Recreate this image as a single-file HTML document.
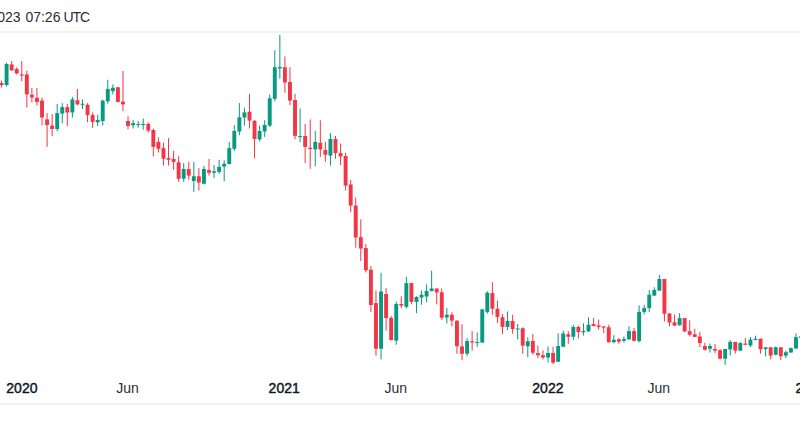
<!DOCTYPE html>
<html><head><meta charset="utf-8">
<style>
html,body{margin:0;padding:0;background:#fff;width:800px;height:445px;overflow:hidden;}
body{position:relative;font-family:"Liberation Sans",sans-serif;color:#131722;}
.hdr{position:absolute;top:8.2px;font-size:14px;line-height:18px;white-space:nowrap;color:#2a2e39;}
.ln{position:absolute;left:0;width:800px;height:2px;background:#f1f2f5;}
.lbl{position:absolute;top:380px;font-size:14px;line-height:16px;white-space:nowrap;transform:translateX(-50%);}
.j{color:#2a2e39;}
.b{font-weight:normal;-webkit-text-stroke:0.45px #131722;}
svg{position:absolute;left:0;top:0;}
</style></head><body>
<div class="hdr" style="right:779.5px">Nov 2023</div><div class="hdr" style="left:25.4px">07:26</div><div class="hdr" style="left:63.6px;letter-spacing:-1.1px">UTC</div>
<div class="ln" style="top:31px"></div>
<svg width="800" height="445" viewBox="0 0 800 445">
<rect x="1.03" y="80.60" width="1.0" height="6.90" fill="#F23645"/>
<rect x="-0.42" y="83.10" width="3.9" height="1.90" fill="#F23645"/>
<rect x="6.09" y="62.75" width="1.0" height="23.75" fill="#089981"/>
<rect x="4.64" y="64.00" width="3.9" height="21.00" fill="#089981"/>
<rect x="11.15" y="61.00" width="1.0" height="10.00" fill="#F23645"/>
<rect x="9.70" y="64.40" width="3.9" height="5.85" fill="#F23645"/>
<rect x="16.21" y="67.25" width="1.0" height="7.15" fill="#F23645"/>
<rect x="14.76" y="69.00" width="3.9" height="4.50" fill="#F23645"/>
<rect x="21.27" y="61.00" width="1.0" height="20.25" fill="#F23645"/>
<rect x="19.82" y="74.40" width="3.9" height="1.20" fill="#F23645"/>
<rect x="26.33" y="70.60" width="1.0" height="36.90" fill="#F23645"/>
<rect x="24.88" y="74.40" width="3.9" height="20.00" fill="#F23645"/>
<rect x="31.39" y="88.00" width="1.0" height="14.50" fill="#F23645"/>
<rect x="29.94" y="94.75" width="3.9" height="2.75" fill="#F23645"/>
<rect x="36.45" y="88.00" width="1.0" height="17.60" fill="#F23645"/>
<rect x="35.00" y="97.75" width="3.9" height="4.15" fill="#F23645"/>
<rect x="41.51" y="97.75" width="1.0" height="27.85" fill="#F23645"/>
<rect x="40.06" y="100.60" width="3.9" height="16.90" fill="#F23645"/>
<rect x="46.57" y="113.10" width="1.0" height="33.80" fill="#F23645"/>
<rect x="45.12" y="119.40" width="3.9" height="5.60" fill="#F23645"/>
<rect x="51.63" y="114.00" width="1.0" height="22.25" fill="#F23645"/>
<rect x="50.18" y="125.60" width="3.9" height="3.40" fill="#F23645"/>
<rect x="56.69" y="104.00" width="1.0" height="27.25" fill="#089981"/>
<rect x="55.24" y="113.10" width="3.9" height="15.90" fill="#089981"/>
<rect x="61.75" y="103.10" width="1.0" height="20.00" fill="#089981"/>
<rect x="60.30" y="107.10" width="3.9" height="6.40" fill="#089981"/>
<rect x="66.81" y="104.00" width="1.0" height="22.00" fill="#F23645"/>
<rect x="65.36" y="107.10" width="3.9" height="5.40" fill="#F23645"/>
<rect x="71.87" y="96.90" width="1.0" height="20.60" fill="#089981"/>
<rect x="70.42" y="99.40" width="3.9" height="13.10" fill="#089981"/>
<rect x="76.93" y="89.00" width="1.0" height="16.25" fill="#F23645"/>
<rect x="75.48" y="100.25" width="3.9" height="4.15" fill="#F23645"/>
<rect x="81.99" y="99.40" width="1.0" height="9.60" fill="#089981"/>
<rect x="80.54" y="103.75" width="3.9" height="1.00" fill="#089981"/>
<rect x="87.05" y="103.10" width="1.0" height="19.15" fill="#F23645"/>
<rect x="85.60" y="104.75" width="3.9" height="10.25" fill="#F23645"/>
<rect x="92.11" y="112.50" width="1.0" height="15.25" fill="#F23645"/>
<rect x="90.66" y="115.00" width="3.9" height="6.90" fill="#F23645"/>
<rect x="97.17" y="114.75" width="1.0" height="11.25" fill="#089981"/>
<rect x="95.72" y="120.00" width="3.9" height="2.25" fill="#089981"/>
<rect x="102.23" y="99.75" width="1.0" height="25.85" fill="#089981"/>
<rect x="100.78" y="100.60" width="3.9" height="20.40" fill="#089981"/>
<rect x="107.29" y="79.75" width="1.0" height="24.00" fill="#089981"/>
<rect x="105.84" y="89.00" width="3.9" height="12.25" fill="#089981"/>
<rect x="112.35" y="84.40" width="1.0" height="10.00" fill="#089981"/>
<rect x="110.90" y="87.75" width="3.9" height="3.50" fill="#089981"/>
<rect x="117.41" y="87.00" width="1.0" height="15.50" fill="#F23645"/>
<rect x="115.96" y="87.25" width="3.9" height="14.65" fill="#F23645"/>
<rect x="122.47" y="71.00" width="1.0" height="40.25" fill="#F23645"/>
<rect x="121.02" y="101.60" width="3.9" height="2.80" fill="#F23645"/>
<rect x="127.53" y="116.25" width="1.0" height="13.15" fill="#F23645"/>
<rect x="126.08" y="121.00" width="3.9" height="5.00" fill="#F23645"/>
<rect x="132.60" y="120.00" width="1.0" height="8.50" fill="#089981"/>
<rect x="131.15" y="123.10" width="3.9" height="2.15" fill="#089981"/>
<rect x="137.66" y="121.00" width="1.0" height="6.75" fill="#089981"/>
<rect x="136.21" y="124.10" width="3.9" height="1.00" fill="#089981"/>
<rect x="142.72" y="118.50" width="1.0" height="11.25" fill="#089981"/>
<rect x="141.27" y="124.00" width="3.9" height="1.00" fill="#089981"/>
<rect x="147.78" y="122.25" width="1.0" height="10.25" fill="#F23645"/>
<rect x="146.33" y="124.00" width="3.9" height="6.60" fill="#F23645"/>
<rect x="152.84" y="128.50" width="1.0" height="27.75" fill="#F23645"/>
<rect x="151.39" y="130.00" width="3.9" height="16.90" fill="#F23645"/>
<rect x="157.90" y="137.25" width="1.0" height="15.25" fill="#F23645"/>
<rect x="156.45" y="141.90" width="3.9" height="6.85" fill="#F23645"/>
<rect x="162.96" y="142.50" width="1.0" height="23.10" fill="#F23645"/>
<rect x="161.51" y="148.10" width="3.9" height="10.65" fill="#F23645"/>
<rect x="168.02" y="138.10" width="1.0" height="27.50" fill="#F23645"/>
<rect x="166.57" y="158.10" width="3.9" height="1.65" fill="#F23645"/>
<rect x="173.08" y="151.00" width="1.0" height="18.75" fill="#F23645"/>
<rect x="171.63" y="159.00" width="3.9" height="2.90" fill="#F23645"/>
<rect x="178.14" y="156.25" width="1.0" height="25.65" fill="#F23645"/>
<rect x="176.69" y="162.25" width="3.9" height="16.50" fill="#F23645"/>
<rect x="183.20" y="163.10" width="1.0" height="18.80" fill="#089981"/>
<rect x="181.75" y="169.00" width="3.9" height="9.75" fill="#089981"/>
<rect x="188.26" y="161.90" width="1.0" height="17.85" fill="#F23645"/>
<rect x="186.81" y="169.00" width="3.9" height="6.60" fill="#F23645"/>
<rect x="193.32" y="161.90" width="1.0" height="30.00" fill="#089981"/>
<rect x="191.87" y="176.25" width="3.9" height="4.75" fill="#089981"/>
<rect x="198.38" y="168.10" width="1.0" height="22.50" fill="#F23645"/>
<rect x="196.93" y="176.25" width="3.9" height="6.25" fill="#F23645"/>
<rect x="203.44" y="166.00" width="1.0" height="18.40" fill="#089981"/>
<rect x="201.99" y="169.00" width="3.9" height="14.75" fill="#089981"/>
<rect x="208.50" y="159.00" width="1.0" height="16.60" fill="#F23645"/>
<rect x="207.05" y="170.00" width="3.9" height="2.75" fill="#F23645"/>
<rect x="213.56" y="165.00" width="1.0" height="13.10" fill="#089981"/>
<rect x="212.11" y="171.25" width="3.9" height="1.50" fill="#089981"/>
<rect x="218.62" y="159.75" width="1.0" height="14.25" fill="#089981"/>
<rect x="217.17" y="166.90" width="3.9" height="5.00" fill="#089981"/>
<rect x="223.68" y="160.25" width="1.0" height="21.00" fill="#089981"/>
<rect x="222.23" y="163.75" width="3.9" height="2.75" fill="#089981"/>
<rect x="228.74" y="141.90" width="1.0" height="22.50" fill="#089981"/>
<rect x="227.29" y="148.10" width="3.9" height="15.90" fill="#089981"/>
<rect x="233.80" y="125.00" width="1.0" height="26.00" fill="#089981"/>
<rect x="232.35" y="131.00" width="3.9" height="17.75" fill="#089981"/>
<rect x="238.86" y="103.10" width="1.0" height="32.20" fill="#089981"/>
<rect x="237.41" y="117.25" width="3.9" height="14.25" fill="#089981"/>
<rect x="243.92" y="107.60" width="1.0" height="18.00" fill="#089981"/>
<rect x="242.47" y="112.40" width="3.9" height="5.10" fill="#089981"/>
<rect x="248.98" y="93.75" width="1.0" height="34.75" fill="#F23645"/>
<rect x="247.53" y="111.70" width="3.9" height="8.90" fill="#F23645"/>
<rect x="254.04" y="120.10" width="1.0" height="38.00" fill="#F23645"/>
<rect x="252.59" y="120.80" width="3.9" height="18.20" fill="#F23645"/>
<rect x="259.10" y="125.60" width="1.0" height="15.80" fill="#089981"/>
<rect x="257.65" y="131.00" width="3.9" height="8.40" fill="#089981"/>
<rect x="264.16" y="120.20" width="1.0" height="16.70" fill="#089981"/>
<rect x="262.71" y="125.00" width="3.9" height="6.50" fill="#089981"/>
<rect x="269.22" y="94.40" width="1.0" height="32.50" fill="#089981"/>
<rect x="267.77" y="98.30" width="3.9" height="27.30" fill="#089981"/>
<rect x="274.28" y="50.25" width="1.0" height="51.00" fill="#089981"/>
<rect x="272.83" y="67.25" width="3.9" height="31.50" fill="#089981"/>
<rect x="279.34" y="35.00" width="1.0" height="43.75" fill="#089981"/>
<rect x="277.89" y="66.90" width="3.9" height="1.60" fill="#089981"/>
<rect x="284.40" y="56.50" width="1.0" height="36.10" fill="#F23645"/>
<rect x="282.95" y="67.25" width="3.9" height="15.25" fill="#F23645"/>
<rect x="289.46" y="67.25" width="1.0" height="37.85" fill="#F23645"/>
<rect x="288.01" y="82.00" width="3.9" height="18.60" fill="#F23645"/>
<rect x="294.52" y="93.75" width="1.0" height="45.65" fill="#F23645"/>
<rect x="293.07" y="100.00" width="3.9" height="35.80" fill="#F23645"/>
<rect x="299.58" y="108.50" width="1.0" height="33.75" fill="#089981"/>
<rect x="298.13" y="136.00" width="3.9" height="1.00" fill="#089981"/>
<rect x="304.64" y="124.00" width="1.0" height="39.10" fill="#F23645"/>
<rect x="303.19" y="136.00" width="3.9" height="10.90" fill="#F23645"/>
<rect x="309.70" y="119.40" width="1.0" height="49.35" fill="#F23645"/>
<rect x="308.25" y="147.75" width="3.9" height="1.25" fill="#F23645"/>
<rect x="314.76" y="131.00" width="1.0" height="35.25" fill="#089981"/>
<rect x="313.31" y="141.90" width="3.9" height="7.50" fill="#089981"/>
<rect x="319.82" y="120.25" width="1.0" height="36.65" fill="#F23645"/>
<rect x="318.37" y="142.75" width="3.9" height="6.65" fill="#F23645"/>
<rect x="324.88" y="141.90" width="1.0" height="20.00" fill="#F23645"/>
<rect x="323.43" y="150.00" width="3.9" height="4.75" fill="#F23645"/>
<rect x="329.94" y="133.10" width="1.0" height="32.50" fill="#089981"/>
<rect x="328.49" y="139.00" width="3.9" height="16.60" fill="#089981"/>
<rect x="335.00" y="136.00" width="1.0" height="22.75" fill="#F23645"/>
<rect x="333.55" y="139.00" width="3.9" height="14.10" fill="#F23645"/>
<rect x="340.06" y="143.50" width="1.0" height="21.50" fill="#F23645"/>
<rect x="338.61" y="153.10" width="3.9" height="3.40" fill="#F23645"/>
<rect x="345.12" y="152.75" width="1.0" height="37.85" fill="#F23645"/>
<rect x="343.67" y="156.00" width="3.9" height="29.60" fill="#F23645"/>
<rect x="350.18" y="180.00" width="1.0" height="32.25" fill="#F23645"/>
<rect x="348.73" y="184.40" width="3.9" height="21.20" fill="#F23645"/>
<rect x="355.24" y="197.50" width="1.0" height="50.25" fill="#F23645"/>
<rect x="353.79" y="205.60" width="3.9" height="31.90" fill="#F23645"/>
<rect x="360.30" y="219.40" width="1.0" height="41.60" fill="#F23645"/>
<rect x="358.85" y="237.10" width="3.9" height="11.40" fill="#F23645"/>
<rect x="365.36" y="244.00" width="1.0" height="28.50" fill="#F23645"/>
<rect x="363.91" y="248.10" width="3.9" height="22.15" fill="#F23645"/>
<rect x="370.42" y="266.00" width="1.0" height="45.90" fill="#F23645"/>
<rect x="368.97" y="269.75" width="3.9" height="35.25" fill="#F23645"/>
<rect x="375.48" y="290.60" width="1.0" height="65.00" fill="#F23645"/>
<rect x="374.03" y="303.10" width="3.9" height="45.65" fill="#F23645"/>
<rect x="380.54" y="272.75" width="1.0" height="86.65" fill="#089981"/>
<rect x="379.09" y="291.50" width="3.9" height="57.25" fill="#089981"/>
<rect x="385.61" y="288.10" width="1.0" height="42.50" fill="#F23645"/>
<rect x="384.16" y="294.00" width="3.9" height="24.10" fill="#F23645"/>
<rect x="390.67" y="316.25" width="1.0" height="24.25" fill="#F23645"/>
<rect x="389.22" y="317.75" width="3.9" height="22.25" fill="#F23645"/>
<rect x="395.73" y="301.50" width="1.0" height="43.25" fill="#089981"/>
<rect x="394.28" y="304.00" width="3.9" height="36.60" fill="#089981"/>
<rect x="400.79" y="296.25" width="1.0" height="11.85" fill="#F23645"/>
<rect x="399.34" y="304.00" width="3.9" height="1.60" fill="#F23645"/>
<rect x="405.85" y="276.90" width="1.0" height="31.60" fill="#089981"/>
<rect x="404.40" y="283.10" width="3.9" height="23.80" fill="#089981"/>
<rect x="410.91" y="283.10" width="1.0" height="21.30" fill="#F23645"/>
<rect x="409.46" y="283.10" width="3.9" height="18.80" fill="#F23645"/>
<rect x="415.97" y="296.25" width="1.0" height="16.85" fill="#089981"/>
<rect x="414.52" y="296.90" width="3.9" height="5.00" fill="#089981"/>
<rect x="421.03" y="290.60" width="1.0" height="14.15" fill="#089981"/>
<rect x="419.58" y="294.75" width="3.9" height="2.75" fill="#089981"/>
<rect x="426.09" y="284.40" width="1.0" height="17.85" fill="#089981"/>
<rect x="424.64" y="291.00" width="3.9" height="5.50" fill="#089981"/>
<rect x="431.15" y="270.60" width="1.0" height="20.90" fill="#089981"/>
<rect x="429.70" y="288.50" width="3.9" height="2.50" fill="#089981"/>
<rect x="436.21" y="288.50" width="1.0" height="15.90" fill="#F23645"/>
<rect x="434.76" y="288.50" width="3.9" height="4.00" fill="#F23645"/>
<rect x="441.27" y="288.50" width="1.0" height="31.50" fill="#F23645"/>
<rect x="439.82" y="292.25" width="3.9" height="25.50" fill="#F23645"/>
<rect x="446.33" y="307.90" width="1.0" height="15.60" fill="#089981"/>
<rect x="444.88" y="314.75" width="3.9" height="2.75" fill="#089981"/>
<rect x="451.39" y="312.25" width="1.0" height="14.00" fill="#F23645"/>
<rect x="449.94" y="314.75" width="3.9" height="5.85" fill="#F23645"/>
<rect x="456.45" y="320.00" width="1.0" height="33.75" fill="#F23645"/>
<rect x="455.00" y="320.80" width="3.9" height="25.45" fill="#F23645"/>
<rect x="461.51" y="324.20" width="1.0" height="36.05" fill="#F23645"/>
<rect x="460.06" y="346.40" width="3.9" height="7.35" fill="#F23645"/>
<rect x="466.57" y="338.10" width="1.0" height="18.15" fill="#089981"/>
<rect x="465.12" y="341.00" width="3.9" height="12.75" fill="#089981"/>
<rect x="471.63" y="331.10" width="1.0" height="19.50" fill="#F23645"/>
<rect x="470.18" y="341.25" width="3.9" height="1.25" fill="#F23645"/>
<rect x="476.69" y="332.50" width="1.0" height="14.40" fill="#089981"/>
<rect x="475.24" y="341.90" width="3.9" height="1.00" fill="#089981"/>
<rect x="481.75" y="309.00" width="1.0" height="34.10" fill="#089981"/>
<rect x="480.30" y="309.40" width="3.9" height="33.10" fill="#089981"/>
<rect x="486.81" y="291.25" width="1.0" height="22.50" fill="#089981"/>
<rect x="485.36" y="292.75" width="3.9" height="19.15" fill="#089981"/>
<rect x="491.87" y="282.25" width="1.0" height="32.50" fill="#F23645"/>
<rect x="490.42" y="293.10" width="3.9" height="15.65" fill="#F23645"/>
<rect x="496.93" y="300.60" width="1.0" height="22.50" fill="#F23645"/>
<rect x="495.48" y="308.75" width="3.9" height="8.15" fill="#F23645"/>
<rect x="501.99" y="314.00" width="1.0" height="20.00" fill="#F23645"/>
<rect x="500.54" y="317.25" width="3.9" height="9.65" fill="#F23645"/>
<rect x="507.05" y="311.50" width="1.0" height="18.50" fill="#089981"/>
<rect x="505.60" y="321.00" width="3.9" height="5.90" fill="#089981"/>
<rect x="512.11" y="314.75" width="1.0" height="19.00" fill="#F23645"/>
<rect x="510.66" y="321.00" width="3.9" height="8.00" fill="#F23645"/>
<rect x="517.17" y="324.00" width="1.0" height="15.40" fill="#089981"/>
<rect x="515.72" y="328.50" width="3.9" height="1.00" fill="#089981"/>
<rect x="522.23" y="327.25" width="1.0" height="26.50" fill="#F23645"/>
<rect x="520.78" y="328.30" width="3.9" height="17.30" fill="#F23645"/>
<rect x="527.29" y="337.25" width="1.0" height="20.00" fill="#089981"/>
<rect x="525.84" y="341.25" width="3.9" height="5.00" fill="#089981"/>
<rect x="532.35" y="334.00" width="1.0" height="20.75" fill="#F23645"/>
<rect x="530.90" y="341.00" width="3.9" height="11.75" fill="#F23645"/>
<rect x="537.41" y="345.60" width="1.0" height="12.50" fill="#F23645"/>
<rect x="535.96" y="353.10" width="3.9" height="2.15" fill="#F23645"/>
<rect x="542.47" y="350.25" width="1.0" height="9.25" fill="#F23645"/>
<rect x="541.02" y="355.20" width="3.9" height="2.30" fill="#F23645"/>
<rect x="547.53" y="346.40" width="1.0" height="16.20" fill="#089981"/>
<rect x="546.08" y="353.00" width="3.9" height="4.60" fill="#089981"/>
<rect x="552.59" y="346.75" width="1.0" height="17.50" fill="#F23645"/>
<rect x="551.14" y="353.00" width="3.9" height="9.60" fill="#F23645"/>
<rect x="557.65" y="333.25" width="1.0" height="28.75" fill="#089981"/>
<rect x="556.20" y="346.00" width="3.9" height="15.75" fill="#089981"/>
<rect x="562.71" y="330.50" width="1.0" height="16.50" fill="#089981"/>
<rect x="561.26" y="333.50" width="3.9" height="13.25" fill="#089981"/>
<rect x="567.77" y="331.00" width="1.0" height="12.90" fill="#F23645"/>
<rect x="566.32" y="334.25" width="3.9" height="2.50" fill="#F23645"/>
<rect x="572.83" y="324.75" width="1.0" height="15.35" fill="#089981"/>
<rect x="571.38" y="327.00" width="3.9" height="9.75" fill="#089981"/>
<rect x="577.89" y="325.50" width="1.0" height="13.00" fill="#F23645"/>
<rect x="576.44" y="327.00" width="3.9" height="5.00" fill="#F23645"/>
<rect x="582.95" y="323.25" width="1.0" height="12.25" fill="#089981"/>
<rect x="581.50" y="331.00" width="3.9" height="1.25" fill="#089981"/>
<rect x="588.01" y="317.25" width="1.0" height="14.55" fill="#089981"/>
<rect x="586.56" y="324.75" width="3.9" height="6.65" fill="#089981"/>
<rect x="593.07" y="318.00" width="1.0" height="8.30" fill="#F23645"/>
<rect x="591.62" y="324.10" width="3.9" height="1.90" fill="#F23645"/>
<rect x="598.13" y="319.50" width="1.0" height="10.25" fill="#F23645"/>
<rect x="596.68" y="325.50" width="3.9" height="1.50" fill="#F23645"/>
<rect x="603.19" y="326.00" width="1.0" height="7.00" fill="#F23645"/>
<rect x="601.74" y="326.40" width="3.9" height="1.20" fill="#F23645"/>
<rect x="608.25" y="324.75" width="1.0" height="17.85" fill="#F23645"/>
<rect x="606.80" y="327.25" width="3.9" height="15.00" fill="#F23645"/>
<rect x="613.31" y="335.10" width="1.0" height="8.15" fill="#089981"/>
<rect x="611.86" y="339.75" width="3.9" height="2.50" fill="#089981"/>
<rect x="618.37" y="338.25" width="1.0" height="5.65" fill="#F23645"/>
<rect x="616.92" y="339.25" width="3.9" height="2.50" fill="#F23645"/>
<rect x="623.43" y="336.40" width="1.0" height="6.20" fill="#089981"/>
<rect x="621.98" y="338.90" width="3.9" height="1.85" fill="#089981"/>
<rect x="628.49" y="326.30" width="1.0" height="13.30" fill="#089981"/>
<rect x="627.04" y="331.10" width="3.9" height="8.20" fill="#089981"/>
<rect x="633.55" y="328.00" width="1.0" height="13.60" fill="#F23645"/>
<rect x="632.10" y="331.10" width="3.9" height="9.70" fill="#F23645"/>
<rect x="638.62" y="305.25" width="1.0" height="37.15" fill="#089981"/>
<rect x="637.17" y="311.90" width="3.9" height="29.20" fill="#089981"/>
<rect x="643.68" y="304.75" width="1.0" height="9.65" fill="#089981"/>
<rect x="642.23" y="308.10" width="3.9" height="3.80" fill="#089981"/>
<rect x="648.74" y="290.00" width="1.0" height="22.25" fill="#089981"/>
<rect x="647.29" y="294.75" width="3.9" height="13.35" fill="#089981"/>
<rect x="653.80" y="287.25" width="1.0" height="8.65" fill="#089981"/>
<rect x="652.35" y="290.00" width="3.9" height="5.60" fill="#089981"/>
<rect x="658.86" y="275.00" width="1.0" height="15.90" fill="#089981"/>
<rect x="657.41" y="279.00" width="3.9" height="11.60" fill="#089981"/>
<rect x="663.92" y="279.00" width="1.0" height="42.50" fill="#F23645"/>
<rect x="662.47" y="279.00" width="3.9" height="34.75" fill="#F23645"/>
<rect x="668.98" y="313.00" width="1.0" height="13.25" fill="#F23645"/>
<rect x="667.53" y="313.50" width="3.9" height="9.00" fill="#F23645"/>
<rect x="674.04" y="314.40" width="1.0" height="11.60" fill="#F23645"/>
<rect x="672.59" y="322.25" width="3.9" height="3.35" fill="#F23645"/>
<rect x="679.10" y="313.10" width="1.0" height="12.50" fill="#089981"/>
<rect x="677.65" y="318.10" width="3.9" height="7.15" fill="#089981"/>
<rect x="684.16" y="318.00" width="1.0" height="13.90" fill="#F23645"/>
<rect x="682.71" y="318.10" width="3.9" height="13.40" fill="#F23645"/>
<rect x="689.22" y="320.25" width="1.0" height="16.25" fill="#F23645"/>
<rect x="687.77" y="331.25" width="3.9" height="3.50" fill="#F23645"/>
<rect x="694.28" y="328.75" width="1.0" height="8.45" fill="#F23645"/>
<rect x="692.83" y="334.40" width="3.9" height="2.50" fill="#F23645"/>
<rect x="699.34" y="331.90" width="1.0" height="15.35" fill="#F23645"/>
<rect x="697.89" y="336.50" width="3.9" height="6.60" fill="#F23645"/>
<rect x="704.40" y="342.75" width="1.0" height="7.85" fill="#F23645"/>
<rect x="702.95" y="346.00" width="3.9" height="3.75" fill="#F23645"/>
<rect x="709.46" y="343.50" width="1.0" height="9.00" fill="#089981"/>
<rect x="708.01" y="346.00" width="3.9" height="2.75" fill="#089981"/>
<rect x="714.52" y="344.00" width="1.0" height="9.10" fill="#F23645"/>
<rect x="713.07" y="349.00" width="3.9" height="1.60" fill="#F23645"/>
<rect x="719.58" y="349.00" width="1.0" height="10.40" fill="#F23645"/>
<rect x="718.13" y="350.25" width="3.9" height="8.50" fill="#F23645"/>
<rect x="724.64" y="349.00" width="1.0" height="16.00" fill="#089981"/>
<rect x="723.19" y="349.00" width="3.9" height="9.75" fill="#089981"/>
<rect x="729.70" y="340.00" width="1.0" height="15.60" fill="#089981"/>
<rect x="728.25" y="341.90" width="3.9" height="7.50" fill="#089981"/>
<rect x="734.76" y="341.90" width="1.0" height="11.60" fill="#F23645"/>
<rect x="733.31" y="341.90" width="3.9" height="8.70" fill="#F23645"/>
<rect x="739.82" y="341.90" width="1.0" height="9.10" fill="#089981"/>
<rect x="738.37" y="343.10" width="3.9" height="7.50" fill="#089981"/>
<rect x="744.88" y="338.10" width="1.0" height="7.10" fill="#F23645"/>
<rect x="743.43" y="343.60" width="3.9" height="1.15" fill="#F23645"/>
<rect x="749.94" y="337.00" width="1.0" height="10.10" fill="#089981"/>
<rect x="748.49" y="339.60" width="3.9" height="5.90" fill="#089981"/>
<rect x="755.00" y="335.70" width="1.0" height="4.60" fill="#089981"/>
<rect x="753.55" y="338.90" width="3.9" height="1.10" fill="#089981"/>
<rect x="760.06" y="338.50" width="1.0" height="15.25" fill="#F23645"/>
<rect x="758.61" y="338.70" width="3.9" height="10.60" fill="#F23645"/>
<rect x="765.12" y="346.90" width="1.0" height="9.60" fill="#089981"/>
<rect x="763.67" y="347.30" width="3.9" height="1.80" fill="#089981"/>
<rect x="770.18" y="347.20" width="1.0" height="12.20" fill="#F23645"/>
<rect x="768.73" y="347.30" width="3.9" height="8.30" fill="#F23645"/>
<rect x="775.24" y="346.50" width="1.0" height="8.75" fill="#089981"/>
<rect x="773.79" y="347.25" width="3.9" height="7.50" fill="#089981"/>
<rect x="780.30" y="347.20" width="1.0" height="12.80" fill="#F23645"/>
<rect x="778.85" y="347.25" width="3.9" height="9.00" fill="#F23645"/>
<rect x="785.36" y="350.50" width="1.0" height="7.60" fill="#089981"/>
<rect x="783.91" y="352.25" width="3.9" height="3.35" fill="#089981"/>
<rect x="790.42" y="347.50" width="1.0" height="5.30" fill="#089981"/>
<rect x="788.97" y="348.10" width="3.9" height="4.40" fill="#089981"/>
<rect x="795.48" y="333.30" width="1.0" height="15.50" fill="#089981"/>
<rect x="794.03" y="337.20" width="3.9" height="11.30" fill="#089981"/>
<rect x="800.54" y="335.80" width="1.0" height="2.40" fill="#089981"/>
<rect x="799.09" y="336.30" width="3.9" height="1.70" fill="#089981"/>
</svg>
<div class="lbl b" style="left:21.9px">2020</div>
<div class="lbl j" style="left:127.5px">Jun</div>
<div class="lbl b" style="left:284.2px">2021</div>
<div class="lbl j" style="left:395.7px">Jun</div>
<div class="lbl b" style="left:547.9px">2022</div>
<div class="lbl j" style="left:658.8px">Jun</div>
<div class="lbl b" style="left:811px">2023</div>
<div class="ln" style="top:403px"></div>
</body></html>
